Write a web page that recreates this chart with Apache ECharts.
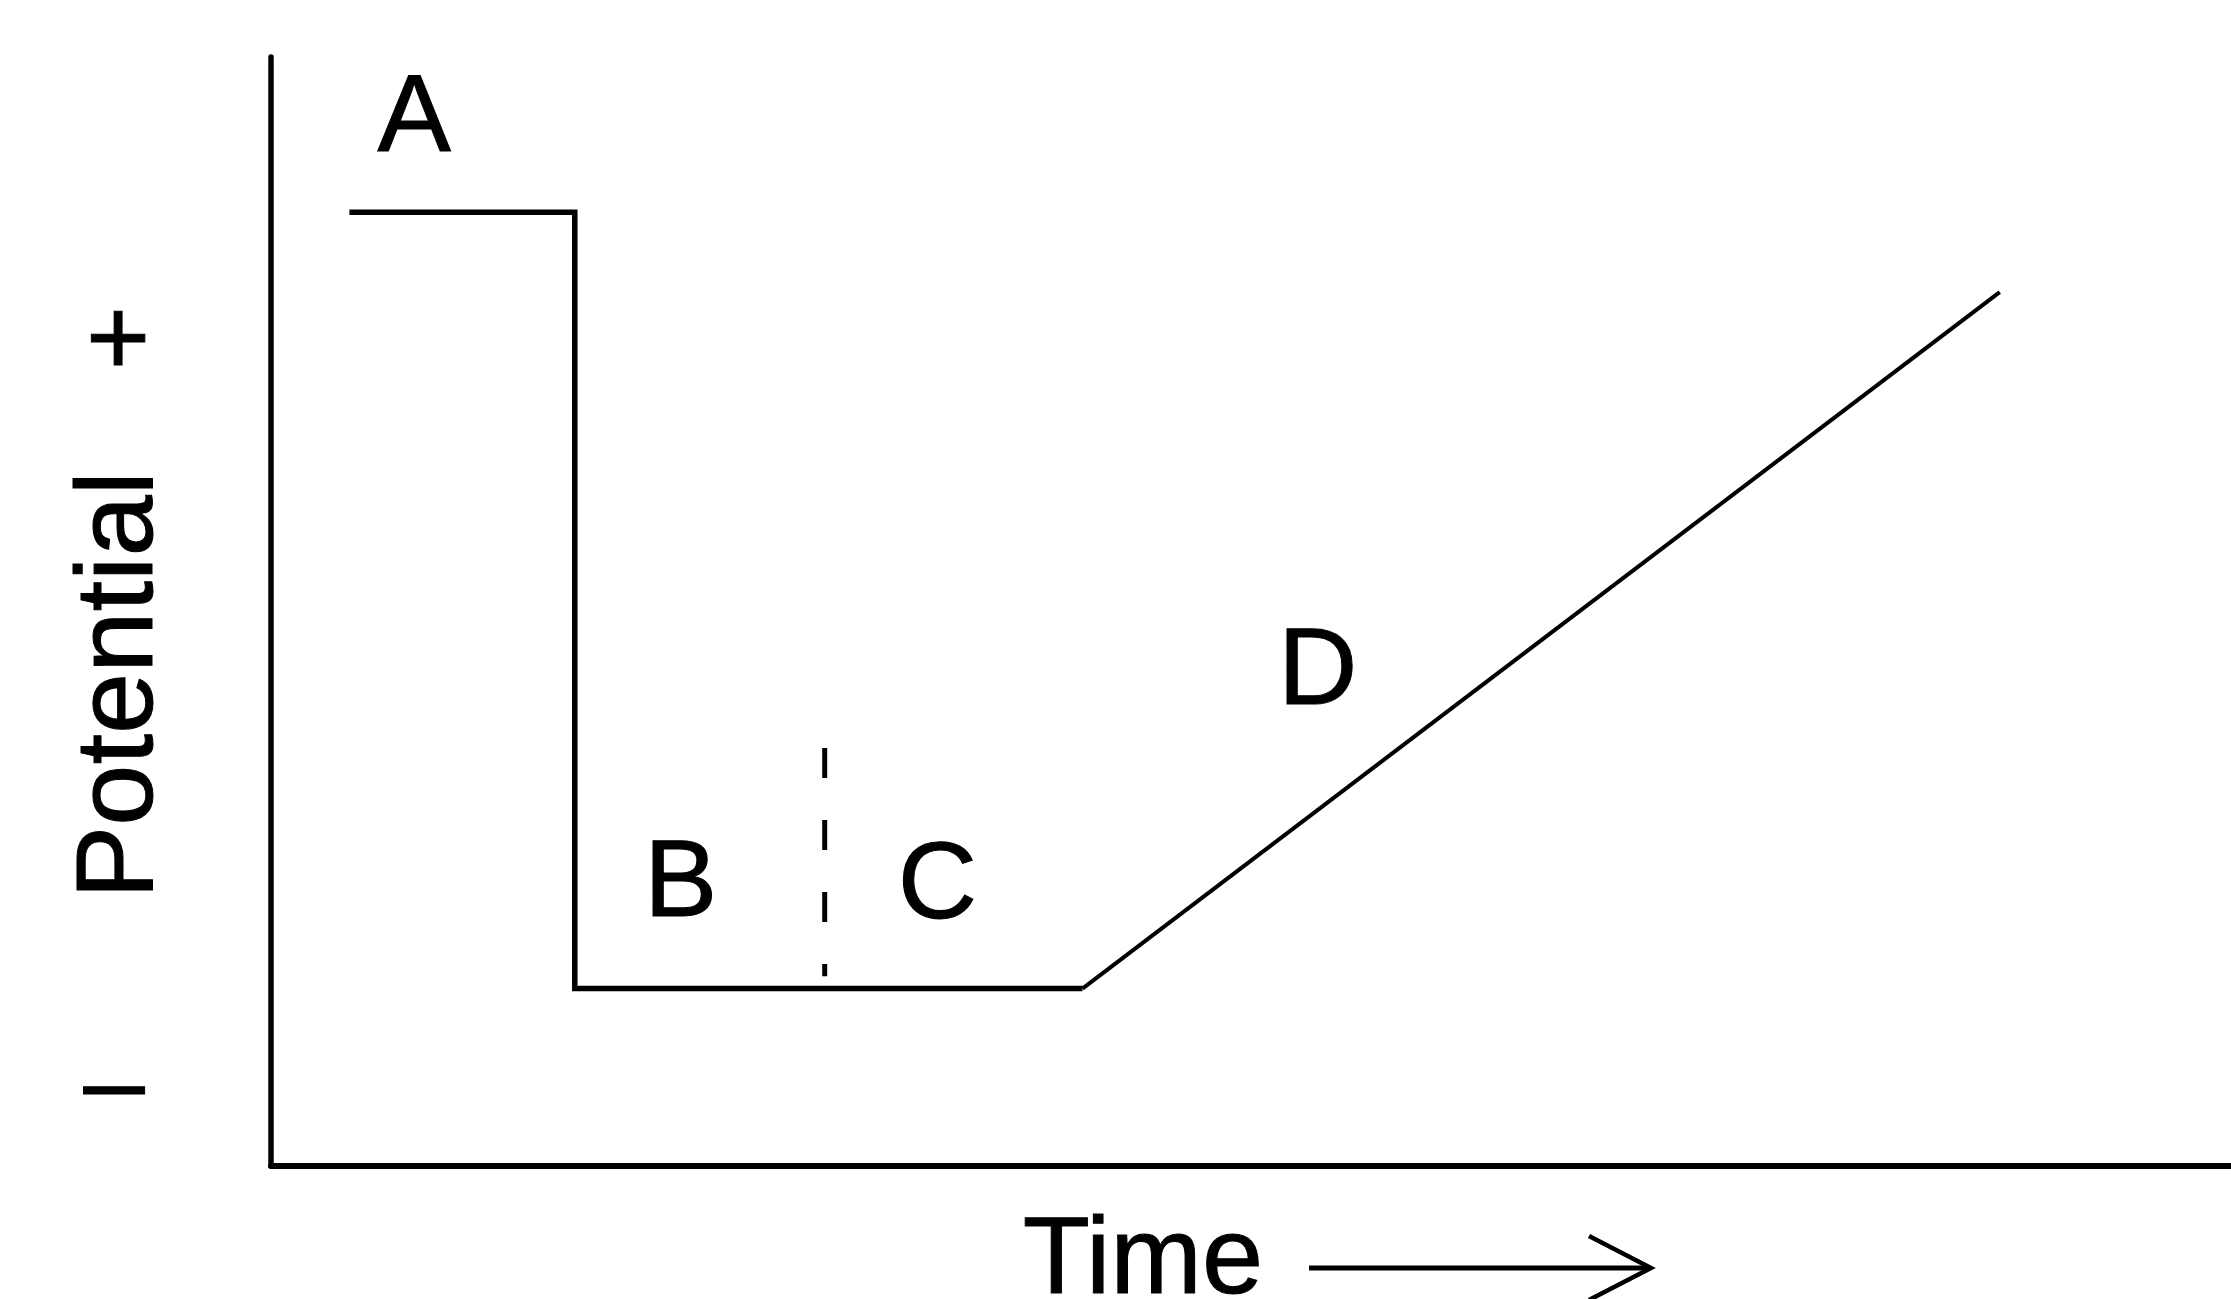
<!DOCTYPE html>
<html>
<head>
<meta charset="utf-8">
<script src="https://cdn.jsdelivr.net/npm/echarts@6/dist/echarts.min.js"></script>
<style>
  html, body { margin: 0; padding: 0; background: #fff; }
  #chart { width: 2231px; height: 1299px; }
</style>
</head>
<body>
<div id="chart"></div>
<script>
// potential trace, in axis units (0..100 on both axes)
const stepX = [4, 15.5, 15.5, 41.4];
const stepY = [86, 86, 16, 16];
const rampX = [41.4, 88.2];
const rampY = [16, 78.8];

// B / C divider
const dividerX = [28.25, 28.25];
const dividerY = [37.7, 17.1];

// region labels
const regionNames = ['A', 'B', 'C', 'D'];
const regionX = [7.3, 20.9, 34.0, 53.4];
const regionY = [94.3, 25.3, 25.1, 44.4];

// y axis sign marks and axis titles
const signLabels = ['+', '–'];
const yTitle = 'Potential';
const xTitle = 'Time';

const FONT = '"Liberation Sans", Arial, sans-serif';
const FS = 110;

const zip = (xs, ys) => xs.map((x, i) => [x, ys[i]]);

const chart = echarts.init(document.getElementById('chart'), null, { renderer: 'canvas' });

const textEl = (text, x, y, extra = {}) => ({
    type: 'text',
    x, y,
    ...extra,
    style: {
        text,
        fontSize: FS,
        fontFamily: FONT,
        fill: '#000',
        stroke: '#000',
        lineWidth: 1,
        align: 'center',
        verticalAlign: 'middle',
    },
});

chart.setOption({
    animation: false,
    backgroundColor: '#fff',
    grid: { left: 271, top: 57, right: 0, bottom: 133 },
    xAxis: {
        type: 'value', min: 0, max: 100,
        axisLine: { show: true, lineStyle: { color: '#000', width: 6 } },
        axisTick: { show: false }, axisLabel: { show: false }, splitLine: { show: false },
    },
    yAxis: {
        type: 'value', min: 0, max: 100,
        axisLine: { show: true, lineStyle: { color: '#000', width: 5.5 } },
        axisTick: { show: false }, axisLabel: { show: false }, splitLine: { show: false },
    },
    series: [
        {
            type: 'line', data: zip(stepX, stepY), symbol: 'none',
            lineStyle: { color: '#000', width: 5.5, join: 'miter' },
        },
        {
            type: 'line', data: zip(rampX, rampY), symbol: 'none',
            lineStyle: { color: '#000', width: 4 },
        },
        {
            type: 'line', data: zip(dividerX, dividerY), symbol: 'none',
            lineStyle: { color: '#000', width: 5, type: [30, 42] },
        },
        {
            type: 'scatter', symbolSize: 0,
            itemStyle: { opacity: 1 },
            data: regionNames.map((n, i) => ({ name: n, value: [regionX[i], regionY[i]] })),
            label: {
                show: true, position: 'inside', formatter: '{b}',
                color: '#000', fontSize: FS, fontFamily: FONT,
                textBorderColor: '#000', textBorderWidth: 1,
            },
        },
    ],
    graphic: [
        textEl(yTitle, 122, 685, { rotation: Math.PI / 2 }),
        textEl(signLabels[0], 118, 345),
        textEl(signLabels[1], 114, 1088),
        textEl(xTitle, 1143, 1263),
        {
            type: 'group',
            children: [
                { type: 'line', shape: { x1: 1309, y1: 1268, x2: 1648, y2: 1268 },
                  style: { stroke: '#000', lineWidth: 5 } },
                { type: 'polyline', shape: { points: [[1589, 1236], [1651, 1268], [1589, 1300]] },
                  style: { stroke: '#000', lineWidth: 4.5, fill: null } },
            ],
        },
    ],
});
</script>
</body>
</html>
